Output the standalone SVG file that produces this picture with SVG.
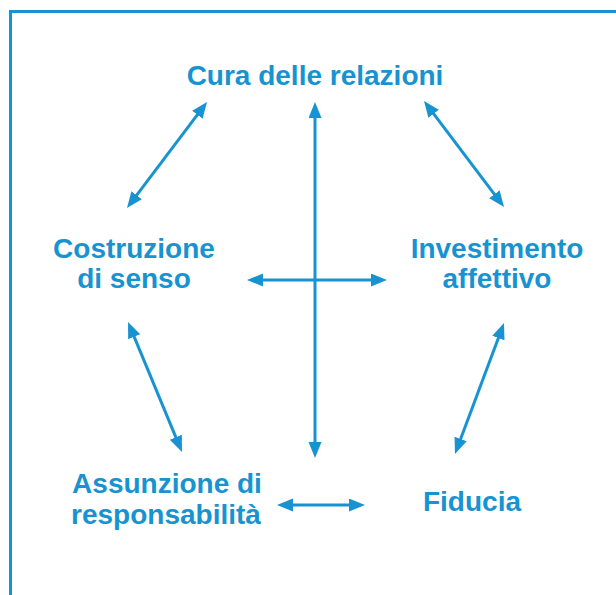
<svg xmlns="http://www.w3.org/2000/svg" width="616" height="595" viewBox="0 0 616 595">
  <style>
    .lbl { font-family: "Liberation Sans", Arial, sans-serif; font-weight: bold; font-size: 28px; fill: #1893d1; text-anchor: middle; }
    .con { stroke: #1893d1; stroke-width: 3; fill: none; marker-start: url(#ah); marker-end: url(#ah); }
    .frame { stroke: #1893d1; stroke-width: 3; fill: none; }
  </style>
  <defs>
    <marker id="ah" markerUnits="userSpaceOnUse" markerWidth="17" markerHeight="14" refX="8" refY="6.5" orient="auto-start-reverse">
      <path d="M0,0 L16,6.5 L0,13 z" fill="#1893d1"/>
    </marker>
  </defs>
  <rect width="616" height="595" fill="#ffffff"/>
  <path class="frame" d="M10.5,595 L10.5,11.5 L616,11.5"/>

  <g id="connectors">
    <line class="con" x1="202.2" y1="108.4" x2="131.8" y2="201.6"/>
    <line class="con" x1="315" y1="110" x2="315" y2="450"/>
    <line class="con" x1="255" y1="280" x2="379" y2="280"/>
    <line class="con" x1="428.8" y1="107.4" x2="499.2" y2="200.6"/>
    <line class="con" x1="131.1" y1="329.4" x2="178.9" y2="444.6"/>
    <line class="con" x1="501.2" y1="330.5" x2="457.8" y2="446.5"/>
    <line class="con" x1="285" y1="505" x2="357" y2="505"/>
  </g>

  <g id="cura">
    <text class="lbl" x="315" y="85">Cura delle relazioni</text>
  </g>
  <g id="costruzione">
    <text class="lbl" x="134" y="258">Costruzione</text>
    <text class="lbl" x="134" y="288">di senso</text>
  </g>
  <g id="investimento">
    <text class="lbl" x="497" y="258">Investimento</text>
    <text class="lbl" x="497" y="288">affettivo</text>
  </g>
  <g id="assunzione">
    <text class="lbl" x="167" y="493">Assunzione di</text>
    <text class="lbl" x="166" y="524">responsabilità</text>
  </g>
  <g id="fiducia">
    <text class="lbl" x="472" y="511">Fiducia</text>
  </g>
</svg>
